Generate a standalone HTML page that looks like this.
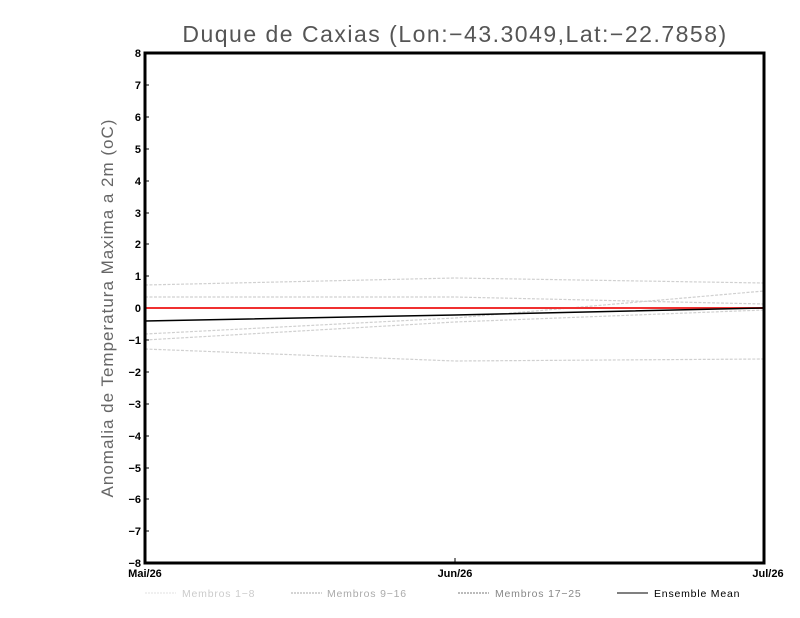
<!DOCTYPE html>
<html><head><meta charset="utf-8"><style>
body{margin:0;background:#fff;width:800px;height:618px;overflow:hidden}
svg{display:block}
text{font-family:"Liberation Sans",sans-serif}
</style></head><body>
<svg width="800" height="618" viewBox="0 0 800 618">
<text x="455" y="42" text-anchor="middle" font-size="23" fill="#555" letter-spacing="1.5">Duque de Caxias (Lon:−43.3049,Lat:−22.7858)</text>
<text transform="translate(113,308) rotate(-90)" text-anchor="middle" font-size="17" fill="#666" letter-spacing="1">Anomalia de Temperatura Maxima a 2m (oC)</text>
<g fill="none" stroke="#d0d0d0" stroke-width="1.2" stroke-dasharray="3,1.5">
<polyline points="145,285 455,278 764,283"/>
<polyline points="145,297 455,297 764,304"/>
<polyline points="145,334 455,318 764,291"/>
<polyline points="145,340 455,322 764,310"/>
<polyline points="145,349 455,361 764,359"/>
</g>
<line x1="145" y1="308" x2="764" y2="308" stroke="#f03030" stroke-width="2"/>
<polyline points="145,321 455,315 764,308" fill="none" stroke="#000" stroke-width="1.5"/>
<rect x="145" y="53" width="619" height="510" fill="none" stroke="#000" stroke-width="3"/>
<g stroke="#000" stroke-width="1">
<line x1="145" y1="53" x2="149" y2="53"/><line x1="145" y1="85" x2="149" y2="85"/><line x1="145" y1="117" x2="149" y2="117"/><line x1="145" y1="149" x2="149" y2="149"/><line x1="145" y1="181" x2="149" y2="181"/><line x1="145" y1="213" x2="149" y2="213"/><line x1="145" y1="244" x2="149" y2="244"/><line x1="145" y1="276" x2="149" y2="276"/><line x1="145" y1="340" x2="149" y2="340"/><line x1="145" y1="372" x2="149" y2="372"/><line x1="145" y1="404" x2="149" y2="404"/><line x1="145" y1="436" x2="149" y2="436"/><line x1="145" y1="468" x2="149" y2="468"/><line x1="145" y1="499" x2="149" y2="499"/><line x1="145" y1="531" x2="149" y2="531"/>
<line x1="455" y1="563" x2="455" y2="558"/>
</g>
<g font-size="11" font-weight="bold" text-anchor="end" fill="#000">
<text x="141" y="57">8</text><text x="141" y="89">7</text><text x="141" y="121">6</text><text x="141" y="153">5</text>
<text x="141" y="185">4</text><text x="141" y="217">3</text><text x="141" y="248">2</text><text x="141" y="280">1</text>
<text x="141" y="312">0</text><text x="141" y="344">−1</text><text x="141" y="376">−2</text><text x="141" y="408">−3</text>
<text x="141" y="440">−4</text><text x="141" y="472">−5</text><text x="141" y="503">−6</text><text x="141" y="535">−7</text><text x="141" y="567">−8</text>
</g>
<g font-size="11" font-weight="bold" fill="#000" text-anchor="middle">
<text x="145" y="577">Mai/26</text><text x="455" y="577">Jun/26</text><text x="768" y="577">Jul/26</text>
</g>
<g font-size="10.5" letter-spacing="0.8">
<line x1="145" y1="593" x2="176" y2="593" stroke="#e0e0e0" stroke-dasharray="2,1"/>
<text x="182" y="597" fill="#ccc">Membros 1−8</text>
<line x1="291" y1="593" x2="322" y2="593" stroke="#aaa" stroke-dasharray="2,1"/>
<text x="327" y="597" fill="#aaa">Membros 9−16</text>
<line x1="458" y1="593" x2="489" y2="593" stroke="#777" stroke-dasharray="2,1"/>
<text x="495" y="597" fill="#888">Membros 17−25</text>
<line x1="617" y1="593" x2="648" y2="593" stroke="#000"/>
<text x="654" y="597" fill="#000">Ensemble Mean</text>
</g>
</svg>
</body></html>
